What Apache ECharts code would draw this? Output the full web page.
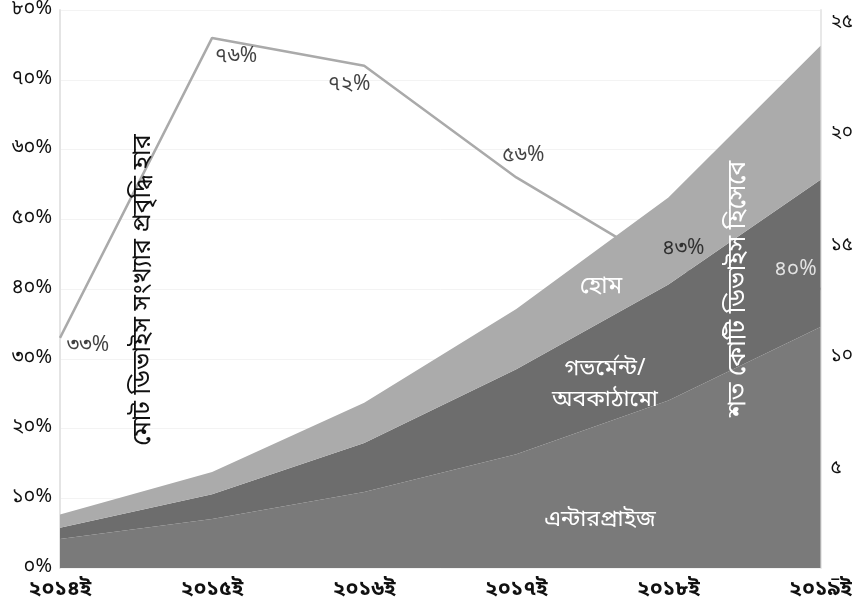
<!DOCTYPE html>
<html><head><meta charset="utf-8">
<script src="https://cdn.jsdelivr.net/npm/echarts@6/dist/echarts.min.js"></script>
<style>html,body{margin:0;padding:0;background:#fff}#c{width:856px;height:614px}</style>
</head><body><div id="c"></div>
<script>
// ---- data ----
const categories = ['২০১৪ই','২০১৫ই','২০১৬ই','২০১৭ই','২০১৮ই','২০১৯ই'];
const growthRate = [33, 76, 72, 56, 43, 40];           // % (left axis)
const enterprise = [1.3, 2.2, 3.4, 5.1, 7.5, 10.8];      // শত কোটি (right axis)
const government = [0.5, 1.1, 2.2, 3.8, 5.2, 6.6];
const home       = [0.6, 1.0, 1.8, 2.7, 3.9, 6.0];
const leftTicks  = ['০%','১০%','২০%','৩০%','৪০%','৫০%','৬০%','৭০%','৮০%'];
const rightTicks = ['–','৫','১০','১৫','২০','২৫'];
const seriesNames = ['এন্টারপ্রাইজ','গভর্মেন্ট/অবকাঠামো','হোম'];

const bn = d => String(d).replace(/[0-9]/g, c => '০১২৩৪৫৬৭৮৯'[+c]);
const FONT = '"Noto Sans Bengali","Noto Sans",sans-serif';

// label placement styles (offsets in px, colours)
const lblOffsets = [[28,9],[24,20],[-15,20],[7,-20],[15,-18],[-25,-18]];
const lblColors  = ['#111','#111','#111','#111','#111','#fff'];

const chart = echarts.init(document.getElementById('c'));
chart.setOption({
  animation:false,
  grid:{left:60,right:34,top:0,bottom:46,containLabel:false},
  xAxis:{type:'category',data:categories,boundaryGap:false,
    axisLine:{show:false},axisTick:{show:false},
    axisLabel:{color:'#111',fontSize:21,fontFamily:FONT,margin:12,fontWeight:'bold'},
    splitLine:{show:false}},
  yAxis:[
    {type:'value',min:0,max:80,interval:10,position:'left',
     axisLine:{show:true,lineStyle:{color:'#e4e4e4',width:2}},axisTick:{show:false},
     axisLabel:{color:'#111',fontSize:20,fontFamily:FONT,margin:8,
       formatter:v=>leftTicks[Math.round(v/10)]},
     splitLine:{show:true,lineStyle:{color:'#f3f3f3'}}},
    {type:'value',min:0,max:25,interval:5,position:'right',
     axisLine:{show:true,lineStyle:{color:'#e8e8e8',width:2}},axisTick:{show:false},
     axisLabel:{color:'#111',fontSize:19,fontFamily:FONT,margin:10,verticalAlign:'top',lineHeight:26,
       formatter:v=>rightTicks[Math.round(v/5)]},
     splitLine:{show:false}}
  ],
  series:[
    {name:'growth',type:'line',yAxisIndex:0,data:growthRate,z:1,symbol:'none',
     lineStyle:{color:'#aaaaaa',width:2.5}},
    {name:seriesNames[0],type:'line',yAxisIndex:1,stack:'t',data:enterprise,z:2,symbol:'none',
     lineStyle:{width:0},areaStyle:{color:'#7a7a7a',opacity:1}},
    {name:seriesNames[1],type:'line',yAxisIndex:1,stack:'t',data:government,z:2,symbol:'none',
     lineStyle:{width:0},areaStyle:{color:'#6d6d6d',opacity:1}},
    {name:seriesNames[2],type:'line',yAxisIndex:1,stack:'t',data:home,z:2,symbol:'none',
     lineStyle:{width:0},areaStyle:{color:'#ababab',opacity:1}},
    {name:'growthLabels',type:'scatter',yAxisIndex:0,z:5,symbolSize:0,
     data:growthRate.map((v,i)=>({value:v,label:{offset:lblOffsets[i],color:lblColors[i]}})),
     label:{show:true,position:'inside',fontSize:21,fontFamily:FONT,formatter:p=>bn(p.value)+'%'}}
  ],
  graphic:[
    {type:'text',x:145,y:290,rotation:Math.PI/2,style:{text:'মোট ডিভাইস সংখ্যার প্রবৃদ্ধি হার',
      fill:'#111',font:'25px '+FONT,align:'center',verticalAlign:'middle'},z:10},
    {type:'text',x:740,y:289,rotation:Math.PI/2,style:{text:'শত কোটি ডিভাইস হিসেবে',
      fill:'#fff',font:'25px '+FONT,align:'center',verticalAlign:'middle'},z:10},
    {type:'text',x:601,y:288,style:{text:'হোম',fill:'#fff',font:'24px '+FONT,align:'center',verticalAlign:'middle'},z:10},
    {type:'text',x:605,y:386,style:{text:'গভর্মেন্ট/\nঅবকাঠামো',fill:'#fff',font:'23px '+FONT,lineHeight:31,align:'center',verticalAlign:'middle'},z:10},
    {type:'text',x:600,y:522,style:{text:'এন্টারপ্রাইজ',fill:'#fff',font:'23px '+FONT,align:'center',verticalAlign:'middle'},z:10}
  ]
});
</script></body></html>
